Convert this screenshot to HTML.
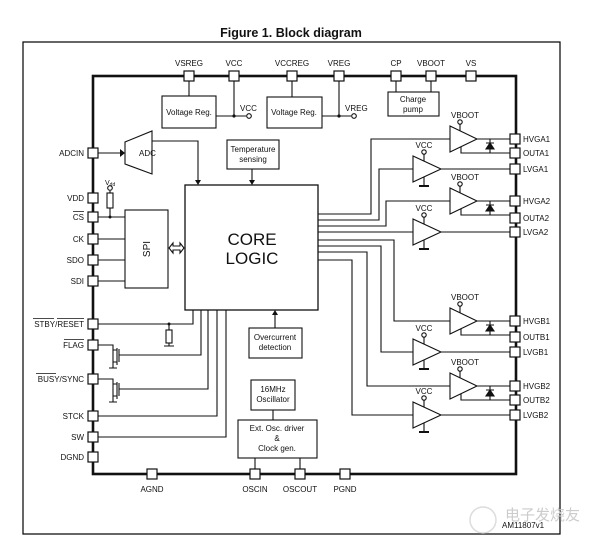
<!DOCTYPE html>
<html><head><meta charset="utf-8"><style>
html,body{margin:0;padding:0;background:#fff;}
svg{display:block;font-family:"Liberation Sans",Arial,sans-serif;}
text{font-size:8px;fill:#111;}
</style></head><body>
<svg width="609" height="550" viewBox="0 0 609 550" xmlns="http://www.w3.org/2000/svg">
<text x="291" y="37" text-anchor="middle" style="font-size:12.5px;font-weight:bold">Figure 1. Block diagram</text>
<rect x="23" y="42" width="537" height="492" fill="none" stroke="#000" stroke-width="1.2"/>
<rect x="93" y="76" width="423" height="398" fill="none" stroke="#111" stroke-width="2.6"/>

<g fill="none" stroke="#111" stroke-width="1.1">
<!-- top regs -->
<rect x="162" y="96" width="54" height="32"/>
<rect x="267" y="97" width="55" height="31"/>
<rect x="388" y="92" width="51" height="24"/>
<path d="M189 76V96 M234 76V116 M216 116H246 M292 76V97 M339 76V116 M322 116H351 M396 76V92 M431 76V92"/>
<circle cx="249" cy="116" r="2.3" fill="#fff"/>
<circle cx="354" cy="116" r="2.3" fill="#fff"/>
<!-- ADC -->
<polygon points="125,142 125,164 152,174 152,131" fill="#fff"/>
<path d="M98 153H120 M152 141H198V183 M252 169V183"/>
<rect x="227" y="140" width="52" height="29"/>
<!-- core -->
<rect x="185" y="185" width="133" height="125" stroke-width="1.3"/>
<!-- SPI -->
<rect x="125" y="210" width="43" height="78"/>
<path d="M98 217H125 M98 239H125 M98 260H125 M98 281H125 M110 191V193 M110 208V217"/>
<circle cx="110" cy="188" r="2.3" fill="#fff"/>
<rect x="107" y="193" width="6" height="15"/>
<path d="M169 248l4-5v3h7v-3l4 5-4 5v-3h-7v3z" fill="#fff"/>
<!-- STBY -->
<path d="M98 324H193V310 M169 324V330 M169 343V346 M164 346H174"/>
<rect x="166" y="330" width="6" height="13"/>
<!-- FLAG mosfet -->
<path d="M98 345H113V350 M113 350V364 M113 350H117 M113 362H117 M117 348V365 M119 349V362 M119 355H201V310 M113 362V368 M109 368H117"/>
<path d="M98 379H113V384 M113 384V398 M113 384H117 M113 396H117 M117 382V399 M119 383V396 M119 389H208V310 M113 396V402 M109 402H117"/>
<path d="M98 416H217V310 M98 437H226V310"/>
<!-- overcurrent -->
<rect x="249" y="328" width="53" height="30"/>
<path d="M275 328V314"/>
<rect x="251" y="380" width="44" height="30"/>
<path d="M273 410V420"/>
<rect x="238" y="420" width="79" height="38"/>
<path d="M255 458V474 M300 458V474"/>
<!-- core outputs -->
<path d="M318 214H371V139H450 M318 220H379V169H413 M318 226H386V201H450 M318 232H413 M318 240H394V321H450 M318 246H381V352H413 M318 252H367V386H450 M318 260H352V415H413"/>
</g>
<circle cx="234" cy="116" r="1.6" fill="#111"/>
<circle cx="339" cy="116" r="1.6" fill="#111"/>
<circle cx="110" cy="217" r="1.5" fill="#111"/>
<circle cx="169" cy="324" r="1.5" fill="#111"/>
<polygon points="120,149 125,153 120,157" fill="#111"/>
<polygon points="195,180 201,180 198,185" fill="#111"/>
<polygon points="249,180 255,180 252,185" fill="#111"/>
<polygon points="272,315 278,315 275,310" fill="#111"/>

<!-- high side drivers -->
<g fill="none" stroke="#111" stroke-width="1.1">
<g id="hs1">
<polygon points="450,126 450,152 477,139" fill="#fff"/>
<path d="M477 139H510 M461 147V153H510 M490 139V153 M486 143H494 M460 124V131"/>
<polygon points="486,149 494,149 490,143" fill="#111"/>
<circle cx="460" cy="122" r="2.2" fill="#fff"/>
</g>
<use href="#hs1" transform="translate(0,62)"/>
<use href="#hs1" transform="translate(0,182)"/>
<use href="#hs1" transform="translate(0,247)"/>
<g id="ls1">
<polygon points="413,156 413,182 441,169" fill="#fff"/>
<path d="M441 169H510 M424 154V161 M424 177V186"/>
<circle cx="424" cy="152" r="2.2" fill="#fff"/>
<path d="M419 186H429" stroke-width="2"/>
</g>
<use href="#ls1" transform="translate(0,63)"/>
<use href="#ls1" transform="translate(0,183)"/>
<use href="#ls1" transform="translate(0,246)"/>
</g>

<!-- pins -->
<g fill="#fff" stroke="#111" stroke-width="1.2">
<rect x="184" y="71" width="10" height="10"/><rect x="229" y="71" width="10" height="10"/>
<rect x="287" y="71" width="10" height="10"/><rect x="334" y="71" width="10" height="10"/>
<rect x="391" y="71" width="10" height="10"/><rect x="426" y="71" width="10" height="10"/>
<rect x="466" y="71" width="10" height="10"/>
<rect x="88" y="148" width="10" height="10"/>
<rect x="88" y="193" width="10" height="10"/><rect x="88" y="212" width="10" height="10"/>
<rect x="88" y="234" width="10" height="10"/><rect x="88" y="255" width="10" height="10"/>
<rect x="88" y="276" width="10" height="10"/><rect x="88" y="319" width="10" height="10"/>
<rect x="88" y="340" width="10" height="10"/><rect x="88" y="374" width="10" height="10"/>
<rect x="88" y="411" width="10" height="10"/><rect x="88" y="432" width="10" height="10"/>
<rect x="88" y="452" width="10" height="10"/>
<rect x="147" y="469" width="10" height="10"/><rect x="250" y="469" width="10" height="10"/>
<rect x="295" y="469" width="10" height="10"/><rect x="340" y="469" width="10" height="10"/>
<rect x="510" y="134" width="10" height="10"/><rect x="510" y="148" width="10" height="10"/>
<rect x="510" y="164" width="10" height="10"/><rect x="510" y="196" width="10" height="10"/>
<rect x="510" y="213" width="10" height="10"/><rect x="510" y="227" width="10" height="10"/>
<rect x="510" y="316" width="10" height="10"/><rect x="510" y="332" width="10" height="10"/>
<rect x="510" y="347" width="10" height="10"/><rect x="510" y="381" width="10" height="10"/>
<rect x="510" y="395" width="10" height="10"/><rect x="510" y="410" width="10" height="10"/>
</g>

<!-- labels -->
<g text-anchor="middle">
<text x="189" y="66">VSREG</text><text x="234" y="66">VCC</text><text x="292" y="66">VCCREG</text>
<text x="339" y="66">VREG</text><text x="396" y="66">CP</text><text x="431" y="66">VBOOT</text><text x="471" y="66">VS</text>
<text x="189" y="115">Voltage Reg.</text><text x="294" y="115">Voltage Reg.</text>
<text x="413" y="102">Charge</text><text x="413" y="112">pump</text>
<text x="253" y="152">Temperature</text><text x="253" y="162">sensing</text>
<text x="252" y="245" style="font-size:17px">CORE</text><text x="252" y="264" style="font-size:17px">LOGIC</text>
<text x="275" y="340">Overcurrent</text><text x="275" y="350">detection</text>
<text x="273" y="392">16MHz</text><text x="273" y="402">Oscillator</text>
<text x="277" y="431">Ext. Osc. driver</text><text x="277" y="441">&amp;</text><text x="277" y="451">Clock gen.</text>
<text x="152" y="492">AGND</text><text x="255" y="492">OSCIN</text><text x="300" y="492">OSCOUT</text><text x="345" y="492">PGND</text>
<text x="465" y="118">VBOOT</text><text x="465" y="180">VBOOT</text><text x="465" y="300">VBOOT</text><text x="465" y="365">VBOOT</text>
<text x="424" y="148">VCC</text><text x="424" y="211">VCC</text><text x="424" y="331">VCC</text><text x="424" y="394">VCC</text>
</g>
<text x="240" y="111">VCC</text><text x="345" y="111">VREG</text>
<text x="139" y="156">ADC</text>
<text x="150" y="249" transform="rotate(-90 150 249)" text-anchor="middle" style="font-size:10px">SPI</text>
<text x="105" y="185" style="font-size:7px">V<tspan style="font-size:5px" dy="1">dd</tspan></text>
<g text-anchor="end">
<text x="84" y="156">ADCIN</text><text x="84" y="201">VDD</text><text x="84" y="220">CS</text>
<text x="84" y="242">CK</text><text x="84" y="263">SDO</text><text x="84" y="284">SDI</text>
<text x="84" y="327">STBY/RESET</text><text x="84" y="348">FLAG</text><text x="84" y="382">BUSY/SYNC</text>
<text x="84" y="419">STCK</text><text x="84" y="440">SW</text><text x="84" y="460">DGND</text>
</g>
<g stroke="#111" stroke-width="0.8">
<path d="M73 211.5H84 M33 318.5H54 M57 318.5H84 M64 339.5H84 M36 373.5H56"/>
</g>
<g>
<text x="523" y="142">HVGA1</text><text x="523" y="156">OUTA1</text><text x="523" y="172">LVGA1</text>
<text x="523" y="204">HVGA2</text><text x="523" y="221">OUTA2</text><text x="523" y="235">LVGA2</text>
<text x="523" y="324">HVGB1</text><text x="523" y="340">OUTB1</text><text x="523" y="355">LVGB1</text>
<text x="523" y="389">HVGB2</text><text x="523" y="403">OUTB2</text><text x="523" y="418">LVGB2</text>
</g>
<text x="502" y="528">AM11807v1</text>
<text x="505" y="520" style="font-size:15px;fill:#ccc" font-family="'Liberation Sans','Noto Sans CJK SC',sans-serif">电子发烧友</text>
<circle cx="483" cy="520" r="13" fill="none" stroke="#ddd" stroke-width="1.5"/>
</svg>
</body></html>
